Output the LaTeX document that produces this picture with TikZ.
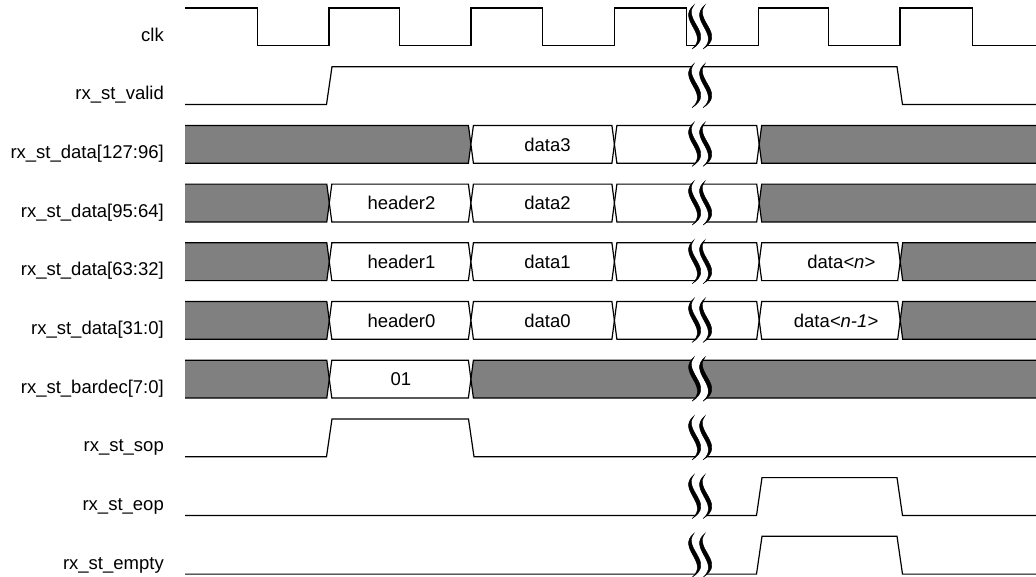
\documentclass[tikz,border=0pt]{standalone}
\usepackage{fontspec}
\setmainfont{Liberation Sans}
\definecolor{gris}{HTML}{808080}
\tikzset{
  senal/.style={line width=1.2pt, line join=miter},
  bus/.style={line width=1.2pt},
  nombre/.style={anchor=base east, inner sep=0pt, font=\fontsize{18.5}{22}\selectfont},
  valor/.style={anchor=base, inner sep=0pt, font=\fontsize{18.5}{22}\selectfont},
}
% Tramos de bus
\newcommand{\tramo}[3]{\filldraw[bus, fill=#3] (#1,18.9) -- (#1+2.5,0) -- (#2-2.5,0) -- (#2,18.9) -- (#2-2.5,37.8) -- (#1+2.5,37.8) -- cycle;}
\newcommand{\tramoini}[2]{%
  \fill[#2] (185,0) -- (#1-2.5,0) -- (#1,18.9) -- (#1-2.5,37.8) -- (185,37.8) -- cycle;
  \draw[bus] (185,0) -- (#1-2.5,0) -- (#1,18.9) -- (#1-2.5,37.8) -- (185,37.8);}
\newcommand{\tramofin}[2]{%
  \fill[#2] (1036,0) -- (#1+2.5,0) -- (#1,18.9) -- (#1+2.5,37.8) -- (1036,37.8) -- cycle;
  \draw[bus] (1036,0) -- (#1+2.5,0) -- (#1,18.9) -- (#1+2.5,37.8) -- (1036,37.8);}
% Corte del eje de tiempo
\newcommand{\corte}{%
  \fill[white] (694,-3) .. controls (676,12) and (710,26) .. (692,41) -- (703,41) .. controls (721,26) and (687,12) .. (705,-3) -- cycle;
  \foreach \dx in {0,11} {
    \filldraw[black, line width=0.4pt, shift={(\dx,0)}] (694,-3) .. controls (676,12) and (710,26) .. (692,41) .. controls (716,26) and (682,12) .. (694,-3) -- cycle;
  }}
\begin{document}
\begin{tikzpicture}[x=1pt, y=-1pt]
  \useasboundingbox (0,0) rectangle (1036,576);

  % Reloj
  \begin{scope}[shift={(0,8)}]
    \node[nombre] (nclk) at (164,33) {clk};
    \draw[senal] (185,0) -| (257.3,37.8) -| (329,0) -| (399.5,37.8) -| (471,0) -| (542.7,37.8) -| (614.3,0) -| (686.5,37.8) -| (758.7,0) -| (828.3,37.8) -| (900,0) -| (972.3,37.8) -- (1036,37.8);
    \corte
  \end{scope}

  % Valid
  \begin{scope}[shift={(0,66.7)}]
    \node[nombre] (nvalid) at (164,33) {rx\_st\_valid};
    \draw[senal] (185,37.8) -- (326.5,37.8) -- (332,0) -- (897,0) -- (902.5,37.8) -- (1036,37.8);
    \corte
  \end{scope}

  % Datos
  \begin{scope}[shift={(0,125.4)}]
    \node[nombre] (nd127) at (164,33) {rx\_st\_data[127:96]};
    \tramoini{470.9}{gris}
    \tramo{470.9}{614.4}{white}
    \tramo{614.4}{759.2}{white}
    \tramofin{759.2}{gris}
    \node[valor] (vdata3) at (547.5,25.6) {data3};
    \corte
  \end{scope}

  \begin{scope}[shift={(0,184.1)}]
    \node[nombre] (nd95) at (164,33) {rx\_st\_data[95:64]};
    \tramoini{329.3}{gris}
    \tramo{329.3}{470.9}{white}
    \tramo{470.9}{614.4}{white}
    \tramo{614.4}{759.2}{white}
    \tramofin{759.2}{gris}
    \node[valor] (vhead2) at (401.5,25.6) {header2};
    \node[valor] (vdata2) at (547.5,25.6) {data2};
    \corte
  \end{scope}

  \begin{scope}[shift={(0,242.8)}]
    \node[nombre] (nd63) at (164,33) {rx\_st\_data[63:32]};
    \tramoini{329.3}{gris}
    \tramo{329.3}{470.9}{white}
    \tramo{470.9}{614.4}{white}
    \tramo{614.4}{759.2}{white}
    \tramo{759.2}{900.2}{white}
    \tramofin{900.2}{gris}
    \node[valor] (vhead1) at (401.5,25.6) {header1};
    \node[valor] (vdata1) at (547.5,25.6) {data1};
    \node[valor] (vdatan) at (841.3,25.6) {data\textit{<n>}};
    \corte
  \end{scope}

  \begin{scope}[shift={(0,301.5)}]
    \node[nombre] (nd31) at (164,33) {rx\_st\_data[31:0]};
    \tramoini{329.3}{gris}
    \tramo{329.3}{470.9}{white}
    \tramo{470.9}{614.4}{white}
    \tramo{614.4}{759.2}{white}
    \tramo{759.2}{900.2}{white}
    \tramofin{900.2}{gris}
    \node[valor] (vhead0) at (401.5,25.6) {header0};
    \node[valor] (vdata0) at (547.5,25.6) {data0};
    \node[valor] (vdatanm) at (836,25.6) {data\textit{<n-1>}};
    \corte
  \end{scope}

  % BAR
  \begin{scope}[shift={(0,360.2)}]
    \node[nombre] (nbar) at (164,33) {rx\_st\_bardec[7:0]};
    \tramoini{329.3}{gris}
    \tramo{329.3}{470.9}{white}
    \tramofin{470.9}{gris}
    \node[valor] (vbar) at (400.8,25.6) {01};
    \corte
  \end{scope}

  % Inicio y fin de paquete
  \begin{scope}[shift={(0,418.9)}]
    \node[nombre] (nsop) at (164,33) {rx\_st\_sop};
    \draw[senal] (185,37.8) -- (326.5,37.8) -- (332,0) -- (468.5,0) -- (474,37.8) -- (1036,37.8);
    \corte
  \end{scope}

  \begin{scope}[shift={(0,477.6)}]
    \node[nombre] (neop) at (164,33) {rx\_st\_eop};
    \draw[senal] (185,37.8) -- (756.5,37.8) -- (762,0) -- (897,0) -- (902.5,37.8) -- (1036,37.8);
    \corte
  \end{scope}

  \begin{scope}[shift={(0,536.3)}]
    \node[nombre] (nempty) at (164,33) {rx\_st\_empty};
    \draw[senal] (185,37.8) -- (756.5,37.8) -- (762,0) -- (897,0) -- (902.5,37.8) -- (1036,37.8);
    \corte
  \end{scope}
\end{tikzpicture}
\end{document}
